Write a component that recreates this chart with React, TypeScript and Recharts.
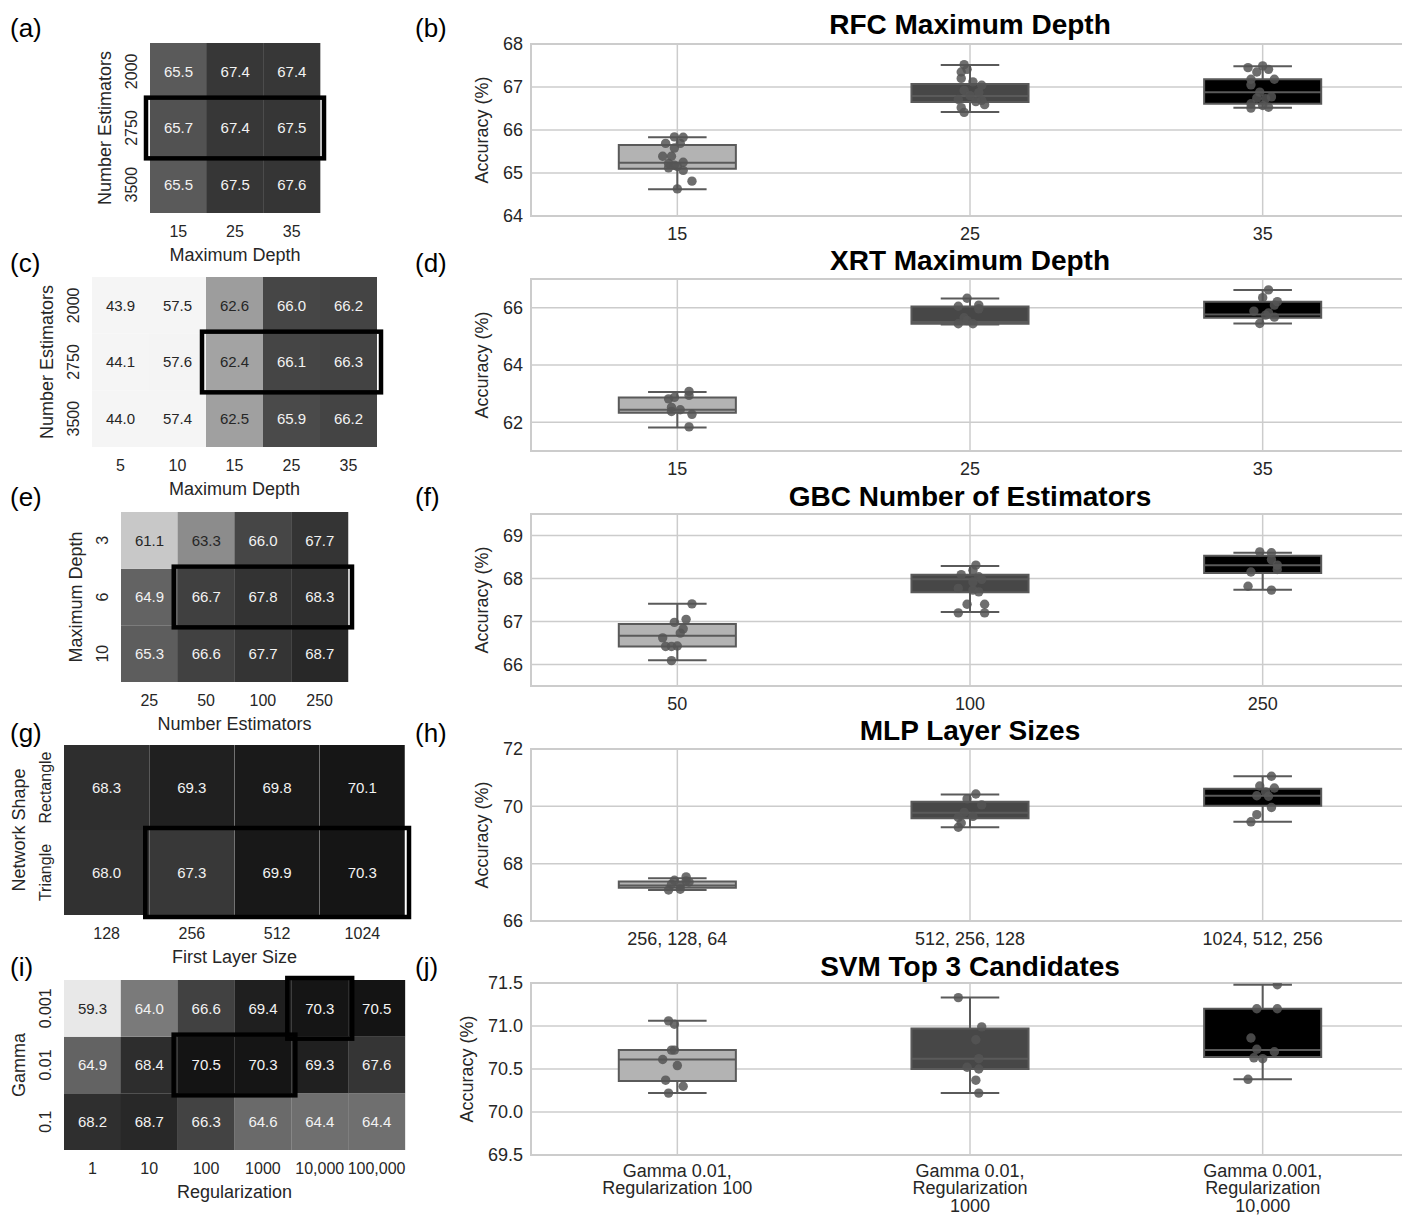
import React from "react";
import {
  BarChart,
  Bar,
  Cell,
  LabelList,
  XAxis,
  YAxis,
  ReferenceArea,
  ReferenceLine,
  ComposedChart,
  Scatter,
  CartesianGrid,
} from "recharts";

const FONT = '"Liberation Sans", Arial, Helvetica, sans-serif';
const INK = "#262626";
const BOX_LINE = "#5a5a5a";
const BOX_FILLS = ["#b3b3b3", "#474747", "#000000"];

// ---------- heatmaps (rows top -> bottom) ----------
const rfcDepthCols = ["15", "25", "35"];
const rfcEstRows = ["2000", "2750", "3500"];
const rfcGrid = [
  [65.5, 67.4, 67.4],
  [65.7, 67.4, 67.5],
  [65.5, 67.5, 67.6],
];

const xrtDepthCols = ["5", "10", "15", "25", "35"];
const xrtEstRows = ["2000", "2750", "3500"];
const xrtGrid = [
  [43.9, 57.5, 62.6, 66.0, 66.2],
  [44.1, 57.6, 62.4, 66.1, 66.3],
  [44.0, 57.4, 62.5, 65.9, 66.2],
];

const gbcEstCols = ["25", "50", "100", "250"];
const gbcDepthRows = ["3", "6", "10"];
const gbcGrid = [
  [61.1, 63.3, 66.0, 67.7],
  [64.9, 66.7, 67.8, 68.3],
  [65.3, 66.6, 67.7, 68.7],
];

const mlpSizeCols = ["128", "256", "512", "1024"];
const mlpShapeRows = ["Rectangle", "Triangle"];
const mlpGrid = [
  [68.3, 69.3, 69.8, 70.1],
  [68.0, 67.3, 69.9, 70.3],
];

const svmRegCols = ["1", "10", "100", "1000", "10,000", "100,000"];
const svmGammaRows = ["0.001", "0.01", "0.1"];
const svmGrid = [
  [59.3, 64.0, 66.6, 69.4, 70.3, 70.5],
  [64.9, 68.4, 70.5, 70.3, 69.3, 67.6],
  [68.2, 68.7, 66.3, 64.6, 64.4, 64.4],
];

// ---------- box plots: [low whisker, q1, median, q3, high whisker] ----------
const rfcCats = ["15", "25", "35"];
const rfcStats = [
  [64.62, 65.1, 65.24, 65.65, 65.83],
  [66.42, 66.65, 66.79, 67.07, 67.51],
  [66.52, 66.61, 66.88, 67.18, 67.48],
];
const rfcRuns = [
  [65.84, 65.83, 65.69, 65.69, 65.58, 65.39, 65.39, 65.25, 65.22, 65.18, 65.15, 65.12, 65.06, 64.81, 64.63],
  [67.52, 67.41, 67.35, 67.2, 67.12, 67.04, 66.92, 66.87, 66.8, 66.71, 66.69, 66.66, 66.59, 66.52, 66.41],
  [67.49, 67.45, 67.41, 67.35, 67.18, 67.18, 67.05, 66.88, 66.77, 66.74, 66.73, 66.61, 66.57, 66.53, 66.51],
];
const rfcJitter = [
  [-0.01, 0.02, -0.04, 0.01, -0.01, -0.05, -0.02, 0.02, -0.03, -0.01, 0.0, -0.03, 0.02, 0.05, 0.0],
  [-0.02, -0.01, -0.03, -0.03, 0.01, 0.04, -0.02, 0.03, 0.0, -0.04, 0.04, 0.02, 0.05, -0.03, -0.02],
  [0.0, -0.05, 0.02, -0.02, 0.04, -0.04, -0.04, -0.01, 0.03, -0.02, 0.01, -0.04, 0.0, 0.02, -0.04],
];

const xrtCats = ["15", "25", "35"];
const xrtStats = [
  [61.82, 62.33, 62.44, 62.87, 63.06],
  [65.41, 65.44, 65.5, 66.04, 66.32],
  [65.45, 65.65, 65.76, 66.21, 66.62],
];
const xrtRuns = [
  [63.08, 62.94, 62.87, 62.82, 62.52, 62.44, 62.38, 62.28, 61.84],
  [66.33, 66.09, 66.05, 65.96, 65.65, 65.55, 65.44, 65.44],
  [66.62, 66.35, 66.21, 66.09, 65.88, 65.82, 65.74, 65.67, 65.45],
];
const xrtJitter = [
  [0.04, 0.04, -0.01, -0.03, -0.02, 0.01, -0.02, 0.05, 0.04],
  [-0.01, 0.03, -0.04, 0.03, -0.02, -0.01, -0.04, 0.01],
  [0.02, 0.0, 0.05, 0.04, -0.03, 0.02, 0.01, 0.04, -0.01],
];

const gbcCats = ["50", "100", "250"];
const gbcStats = [
  [66.1, 66.42, 66.67, 66.94, 67.41],
  [67.22, 67.68, 67.98, 68.09, 68.29],
  [67.74, 68.13, 68.31, 68.53, 68.6],
];
const gbcRuns = [
  [67.41, 67.05, 66.98, 66.83, 66.73, 66.62, 66.43, 66.42, 66.42, 66.09],
  [68.31, 68.19, 68.09, 68.04, 67.98, 67.92, 67.77, 67.73, 67.69, 67.4, 67.4, 67.2, 67.2],
  [68.62, 68.6, 68.44, 68.31, 68.21, 68.15, 67.82, 67.73],
];
const gbcJitter = [
  [0.05, 0.03, -0.01, 0.02, 0.01, -0.05, 0.0, -0.04, -0.02, -0.02],
  [0.02, 0.01, -0.03, 0.03, 0.04, 0.01, -0.04, 0.01, 0.03, -0.01, 0.05, -0.04, 0.05],
  [-0.01, 0.03, 0.03, 0.05, 0.05, -0.04, -0.05, 0.03],
];

const mlpCats = ["256, 128, 64", "512, 256, 128", "1024, 512, 256"];
const mlpStats = [
  [67.08, 67.16, 67.24, 67.38, 67.49],
  [69.27, 69.58, 69.78, 70.16, 70.41],
  [69.46, 70.02, 70.37, 70.61, 71.05],
];
const mlpRuns = [
  [67.54, 67.42, 67.4, 67.36, 67.28, 67.24, 67.11, 67.08],
  [70.43, 70.26, 70.05, 69.79, 69.65, 69.61, 69.42, 69.27],
  [71.05, 70.71, 70.64, 70.5, 70.37, 70.35, 69.96, 69.71, 69.46],
];
const mlpJitter = [
  [0.03, -0.01, 0.03, 0.04, -0.02, 0.01, 0.01, -0.03],
  [0.02, -0.01, 0.04, -0.02, 0.01, -0.04, -0.03, -0.04],
  [0.03, -0.01, 0.04, 0.01, -0.02, 0.02, 0.03, -0.02, -0.04],
];

const svmCats = [
  "Gamma 0.01,\nRegularization 100",
  "Gamma 0.01,\nRegularization\n1000",
  "Gamma 0.001,\nRegularization\n10,000",
];
const svmStats = [
  [70.22, 70.36, 70.61, 70.72, 71.06],
  [70.22, 70.5, 70.62, 70.97, 71.33],
  [70.38, 70.64, 70.72, 71.2, 71.48],
];
const svmRuns = [
  [71.06, 71.02, 70.72, 70.72, 70.61, 70.54, 70.37, 70.3, 70.22],
  [71.33, 70.99, 70.84, 70.62, 70.52, 70.5, 70.37, 70.22],
  [71.48, 71.2, 71.2, 70.86, 70.73, 70.7, 70.63, 70.62, 70.38],
];
const svmJitter = [
  [-0.03, -0.01, -0.02, -0.01, -0.05, 0.0, -0.04, 0.02, -0.03],
  [-0.04, 0.04, 0.02, 0.03, -0.01, 0.03, 0.02, 0.03],
  [0.05, -0.02, 0.05, -0.04, -0.02, 0.04, -0.03, 0.0, -0.05],
];

// grey colormap shared by all heatmaps (accuracy -> grey level)
const GREY_STOPS: [number, number][] = [
  [57.5, 245], [59.3, 232], [61.1, 200], [62.5, 160], [63.3, 140], [64.0, 122],
  [64.5, 108], [65.0, 97], [65.5, 90], [66.0, 70], [66.7, 64], [67.4, 55],
  [68.3, 46], [69.3, 32], [70.1, 22], [70.5, 20],
];
const greyLevel = (v: number) => {
  if (v <= GREY_STOPS[0][0]) return GREY_STOPS[0][1];
  for (let k = 1; k < GREY_STOPS.length; k++) {
    const [v1, g1] = GREY_STOPS[k];
    const [v0, g0] = GREY_STOPS[k - 1];
    if (v <= v1) return g0 + ((v - v0) / (v1 - v0)) * (g1 - g0);
  }
  return GREY_STOPS[GREY_STOPS.length - 1][1];
};
const greyHex = (v: number) => {
  const g = Math.round(greyLevel(v)).toString(16).padStart(2, "0");
  return `#${g}${g}${g}`;
};

type Highlight = { c: [number, number]; r: [number, number] };

const HeatMap = ({
  left, top, plotW, cols, rows, grid, xLabel, yLabel, highlights,
}: {
  left: number; top: number; plotW: number; cols: string[]; rows: string[];
  grid: number[][]; xLabel: string; yLabel: string; highlights: Highlight[];
}) => {
  const n = rows.length;
  const yW = 60;
  const m = { top: 10, right: 12, bottom: 0, left: 0 };
  const table = cols.map((c, j) => {
    const rec: Record<string, string | number> = { col: c };
    rows.forEach((_, i) => {
      rec[`r${i}`] = 1;
      rec[`v${i}`] = grid[i][j];
    });
    return rec;
  });

  const rowTick = (p: any) => {
    const label = rows[n - 1 - Math.floor(p.payload.value)];
    return (
      <text x={p.x} y={p.y} transform={`rotate(-90 ${p.x} ${p.y})`} textAnchor="middle" fill={INK} fontSize={16}>
        {label}
      </text>
    );
  };

  const cellText = (p: any) => {
    const vb = p.viewBox ?? p;
    const v = Number(p.value);
    return (
      <text
        x={vb.x + vb.width / 2}
        y={vb.y + vb.height / 2}
        dy="0.36em"
        textAnchor="middle"
        fontSize={15}
        fill={greyLevel(v) > 130 ? INK : "#f2f2f2"}
      >
        {v.toFixed(1)}
      </text>
    );
  };

  const hlShape = (p: any) => (
    <rect x={p.x - 4} y={p.y - 2} width={p.width + 8} height={p.height + 4} fill="none" stroke="#000" strokeWidth={4.5} />
  );

  return (
    <div style={{ position: "absolute", left: left - yW, top: top - m.top }}>
      <BarChart width={yW + plotW + m.right} height={m.top + 170 + 60} data={table} margin={m} barCategoryGap={0} barGap={0}>
        <XAxis
          dataKey="col"
          axisLine={false}
          tickLine={false}
          tickSize={0}
          tickMargin={13}
          height={60}
          interval={0}
          tick={{ fill: INK, fontSize: 16 }}
          label={{ value: xLabel, position: "insideBottom", offset: 12, fill: INK, fontSize: 18 }}
        />
        <YAxis
          type="number"
          domain={[0, n]}
          ticks={rows.map((_, i) => n - i - 0.5)}
          axisLine={false}
          tickLine={false}
          tickSize={0}
          tickMargin={13}
          width={yW}
          interval={0}
          tick={rowTick}
          label={{ value: yLabel, angle: -90, position: "insideLeft", offset: 15, fill: INK, fontSize: 18, style: { textAnchor: "middle" } }}
        />
        {rows.map((_, k) => {
          const i = n - 1 - k;
          return (
            <Bar key={i} dataKey={`r${i}`} stackId="grid" isAnimationActive={false}>
              {table.map((rec, j) => (
                <Cell key={j} fill={greyHex(Number(rec[`v${i}`]))} />
              ))}
              <LabelList dataKey={`v${i}`} content={cellText} />
            </Bar>
          );
        })}
        {highlights.map((h, k) => (
          <ReferenceArea
            key={k}
            x1={cols[h.c[0]]}
            x2={cols[h.c[1]]}
            y1={n - h.r[1] - 1}
            y2={n - h.r[0]}
            ifOverflow="visible"
            shape={hlShape}
            zIndex={1500}
          />
        ))}
      </BarChart>
    </div>
  );
};

const PLOT_L = 531;
const PLOT_W = 878;
const PLOT_H = 172;
const YAXIS_W = 80;
const TOP_PAD = 12;

const BoxPanel = ({
  top, cats, stats, runs, jitter, domain, ticks, decimals, labelOffset, axisH, tickGap,
}: {
  top: number; cats: string[]; stats: number[][]; runs: number[][]; jitter: number[][];
  domain: [number, number]; ticks: number[]; decimals: number; labelOffset: number; axisH: number; tickGap: number;
}) => {
  const pts = runs.flatMap((vals, i) => vals.map((y, k) => ({ x: i + jitter[i][k], y })));

  const catTick = (p: any) => {
    const lines = cats[Math.round(p.payload.value)].split("\n");
    return (
      <text x={p.x} y={p.y} textAnchor="middle" fill={INK} fontSize={18}>
        {lines.map((l, k) => (
          <tspan key={k} x={p.x} dy={k === 0 ? "0.71em" : 17.5}>
            {l}
          </tspan>
        ))}
      </text>
    );
  };

  const dot = (p: any) => <circle cx={p.cx} cy={p.cy} r={4.7} fill="#555555" fillOpacity={0.85} />;

  const seg = (key: string, x1: number, y1: number, x2: number, y2: number) => (
    <ReferenceLine
      key={key}
      segment={[{ x: x1, y: y1 }, { x: x2, y: y2 }]}
      stroke={BOX_LINE}
      strokeWidth={2}
      ifOverflow="visible"
    />
  );

  return (
    <div style={{ position: "absolute", left: PLOT_L - YAXIS_W, top: top - TOP_PAD }}>
      <ComposedChart
        width={YAXIS_W + PLOT_W + 2}
        height={PLOT_H + TOP_PAD + axisH}
        margin={{ top: TOP_PAD, right: 2, bottom: 0, left: 0 }}
      >
        <CartesianGrid stroke="#cccccc" strokeWidth={1.5} />
        <XAxis
          type="number"
          dataKey="x"
          domain={[-0.5, 2.5]}
          ticks={[0, 1, 2]}
          allowDataOverflow
          axisLine={false}
          tickLine={false}
          tickSize={0}
          tickMargin={tickGap}
          height={axisH}
          interval={0}
          tick={catTick}
        />
        <YAxis
          type="number"
          dataKey="y"
          domain={domain}
          ticks={ticks}
          allowDataOverflow
          axisLine={false}
          tickLine={false}
          tickSize={0}
          tickMargin={8}
          width={YAXIS_W}
          interval={0}
          tick={{ fill: INK, fontSize: 18 }}
          tickFormatter={(v: number) => v.toFixed(decimals)}
          label={{ value: "Accuracy (%)", angle: -90, position: "insideLeft", offset: labelOffset, fill: INK, fontSize: 18, style: { textAnchor: "middle" } }}
        />
        <ReferenceArea x1={-0.5} x2={2.5} y1={domain[0]} y2={domain[1]} fill="none" fillOpacity={0} stroke="#cccccc" strokeWidth={2} ifOverflow="visible" />
        {stats.map(([lo, q1, med, q3, hi], i) => (
          <ReferenceArea
            key={`box${i}`}
            x1={i - 0.2}
            x2={i + 0.2}
            y1={q1}
            y2={q3}
            fill={BOX_FILLS[i]}
            fillOpacity={1}
            stroke={BOX_LINE}
            strokeWidth={2}
            ifOverflow="visible"
          />
        ))}
        {stats.flatMap(([lo, q1, med, q3, hi], i) => [
          seg(`med${i}`, i - 0.2, med, i + 0.2, med),
          seg(`wlo${i}`, i, lo, i, q1),
          seg(`whi${i}`, i, q3, i, hi),
          seg(`clo${i}`, i - 0.1, lo, i + 0.1, lo),
          seg(`chi${i}`, i - 0.1, hi, i + 0.1, hi),
        ])}
        <Scatter data={pts} isAnimationActive={false} shape={dot} />
      </ComposedChart>
    </div>
  );
};

const letters: [string, number, number][] = [
  ["(a)", 10, 28], ["(b)", 415, 28],
  ["(c)", 10, 263], ["(d)", 415, 263],
  ["(e)", 10, 497], ["(f)", 415, 497],
  ["(g)", 10, 733], ["(h)", 415, 733],
  ["(i)", 10, 967], ["(j)", 415, 967],
];

const titles: [string, number][] = [
  ["RFC Maximum Depth", 25],
  ["XRT Maximum Depth", 261],
  ["GBC Number of Estimators", 497],
  ["MLP Layer Sizes", 731],
  ["SVM Top 3 Candidates", 967],
];

export default function App() {
  return (
    <div
      style={{
        position: "absolute",
        left: 0,
        top: 0,
        width: 1402,
        height: 1217,
        overflow: "hidden",
        background: "#ffffff",
        fontFamily: FONT,
      }}
    >
      <HeatMap left={150} top={43} plotW={170} cols={rfcDepthCols} rows={rfcEstRows} grid={rfcGrid}
        xLabel="Maximum Depth" yLabel="Number Estimators" highlights={[{ c: [0, 2], r: [1, 1] }]} />
      <HeatMap left={92} top={277} plotW={285} cols={xrtDepthCols} rows={xrtEstRows} grid={xrtGrid}
        xLabel="Maximum Depth" yLabel="Number Estimators" highlights={[{ c: [2, 4], r: [1, 1] }]} />
      <HeatMap left={121} top={512} plotW={227} cols={gbcEstCols} rows={gbcDepthRows} grid={gbcGrid}
        xLabel="Number Estimators" yLabel="Maximum Depth" highlights={[{ c: [1, 3], r: [1, 1] }]} />
      <HeatMap left={64} top={745} plotW={341} cols={mlpSizeCols} rows={mlpShapeRows} grid={mlpGrid}
        xLabel="First Layer Size" yLabel="Network Shape" highlights={[{ c: [1, 3], r: [1, 1] }]} />
      <HeatMap left={64} top={980} plotW={341} cols={svmRegCols} rows={svmGammaRows} grid={svmGrid}
        xLabel="Regularization" yLabel="Gamma" highlights={[{ c: [4, 4], r: [0, 0] }, { c: [2, 3], r: [1, 1] }]} />

      <BoxPanel top={44} cats={rfcCats} stats={rfcStats} runs={rfcRuns} jitter={rfcJitter}
        domain={[64, 68]} ticks={[64, 65, 66, 67, 68]} decimals={0} labelOffset={31} axisH={40} tickGap={11} />
      <BoxPanel top={279} cats={xrtCats} stats={xrtStats} runs={xrtRuns} jitter={xrtJitter}
        domain={[61, 67]} ticks={[62, 64, 66]} decimals={0} labelOffset={31} axisH={40} tickGap={11} />
      <BoxPanel top={514} cats={gbcCats} stats={gbcStats} runs={gbcRuns} jitter={gbcJitter}
        domain={[65.5, 69.5]} ticks={[66, 67, 68, 69]} decimals={0} labelOffset={31} axisH={40} tickGap={11} />
      <BoxPanel top={749} cats={mlpCats} stats={mlpStats} runs={mlpRuns} jitter={mlpJitter}
        domain={[66, 72]} ticks={[66, 68, 70, 72]} decimals={0} labelOffset={31} axisH={40} tickGap={11} />
      <BoxPanel top={983} cats={svmCats} stats={svmStats} runs={svmRuns} jitter={svmJitter}
        domain={[69.5, 71.5]} ticks={[69.5, 70, 70.5, 71, 71.5]} decimals={1} labelOffset={16} axisH={62} tickGap={9} />

      {letters.map(([t, x, cy]) => (
        <div key={t} style={{ position: "absolute", left: x, top: cy - 13, fontSize: 26, lineHeight: "26px", color: "#000" }}>
          {t}
        </div>
      ))}
      {titles.map(([t, cy]) => (
        <div
          key={t}
          style={{ position: "absolute", left: PLOT_L, width: PLOT_W, top: cy - 14, textAlign: "center", fontSize: 28, fontWeight: "bold", lineHeight: "28px", color: "#000" }}
        >
          {t}
        </div>
      ))}
    </div>
  );
}
